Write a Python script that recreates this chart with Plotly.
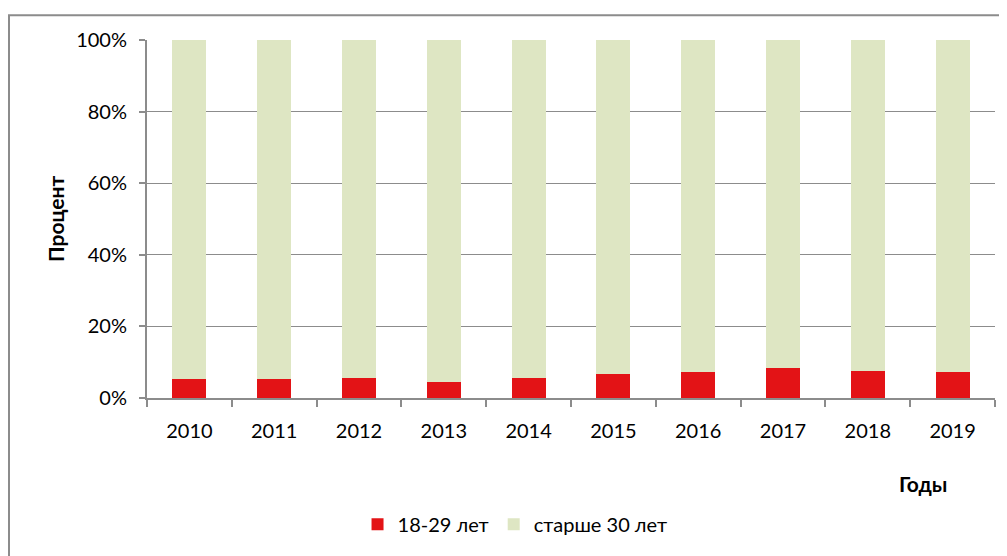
import plotly.graph_objects as go

years = ["2010", "2011", "2012", "2013", "2014", "2015", "2016", "2017", "2018", "2019"]
young = [5.2, 5.3, 5.7, 4.4, 5.7, 6.75, 7.3, 8.3, 7.5, 7.3]
older = [100 - v for v in young]
y_ticks = [0, 20, 40, 60, 80, 100]
y_tick_labels = ["0%", "20%", "40%", "60%", "80%", "100%"]

FONT = "Lato"
OFF = 8  # page body margin
W, H = 1007 - OFF, 556 - OFF
L, T, R = 147 - OFF, 40 - OFF, 12
PW = W - L - R
B = H - (400 - OFF)
PH = H - T - B

fig = go.Figure()
fig.add_trace(go.Bar(x=years, y=young, name="18-29 лет", marker_color="#E31316",
                     marker_line_width=0))
fig.add_trace(go.Bar(x=years, y=older, name="старше 30 лет", marker_color="#DEE6C3",
                     marker_line_width=0))

fig.update_layout(
    barmode="stack",
    bargap=0.6,
    width=W, height=H,
    margin=dict(l=L, r=R, t=T, b=B),
    paper_bgcolor="white", plot_bgcolor="white",
    font=dict(family=FONT, size=20, color="black"),
    showlegend=True,
    legend=dict(orientation="h", x=0.434, xanchor="center", y=-0.353, yanchor="middle",
                font=dict(size=20, family=FONT), traceorder="normal", itemwidth=30),
)
fig.update_xaxes(
    type="category", showline=True, linecolor="#8C8C8C", linewidth=2,
    ticks="outside", tickson="boundaries", ticklen=7, tickcolor="#8C8C8C", tickwidth=2,
    showgrid=False, tickfont=dict(size=20, family=FONT), ticklabelstandoff=14,
)
fig.update_yaxes(
    range=[0, 100], tickvals=y_ticks, ticktext=y_tick_labels,
    showline=True, linecolor="#8C8C8C", linewidth=2,
    ticks="outside", ticklen=6, tickcolor="#8C8C8C", tickwidth=2,
    showgrid=True, gridcolor="#8C8C8C", gridwidth=1,
    zeroline=False, ticklabelstandoff=8, tickfont=dict(size=20, family=FONT),
)
fig.add_annotation(text="<b>Процент</b>", x=(55 - 147) / PW, y=(400 - 220) / PH,
                   xref="paper", yref="paper", showarrow=False, textangle=-90,
                   xanchor="center", yanchor="middle",
                   font=dict(size=21, family=FONT))
fig.add_annotation(text="<b>Годы</b>", x=(923 - 147) / PW, y=(400 - 486) / PH,
                   xref="paper", yref="paper", showarrow=False,
                   xanchor="center", yanchor="middle",
                   font=dict(size=21, family=FONT))
# outer chart frame
fig.add_shape(type="rect", xref="paper", yref="paper",
              x0=(9 - 147) / PW, x1=1.2, y0=-1.0, y1=(400 - 15) / PH,
              line=dict(color="#8C8C8C", width=2), fillcolor="rgba(0,0,0,0)", layer="below")

fig.write_html("out.html")
